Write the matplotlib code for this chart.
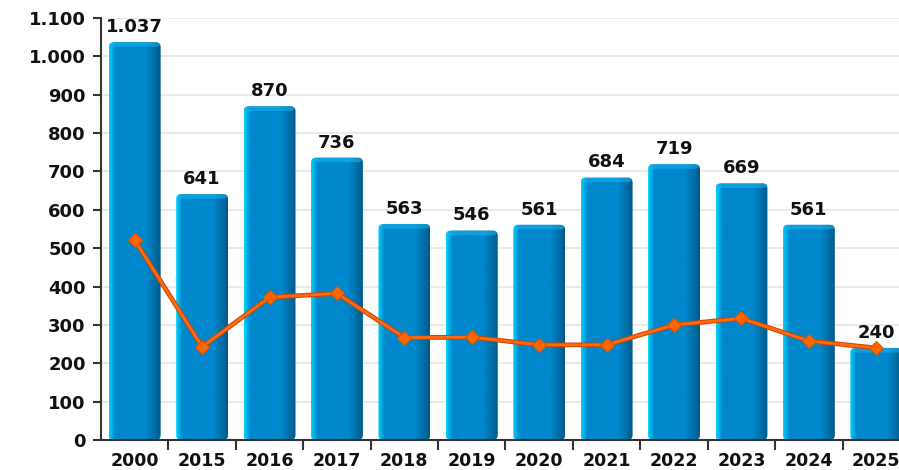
import numpy as np
import matplotlib
matplotlib.use("Agg")
import matplotlib.pyplot as plt
from matplotlib.patches import FancyBboxPatch
from matplotlib.ticker import FuncFormatter, FixedLocator

categories = ["2000", "2015", "2016", "2017", "2018", "2019", "2020", "2021", "2022", "2023", "2024", "2025"]
bar_values = [1037, 641, 870, 736, 563, 546, 561, 684, 719, 669, 561, 240]
line_values = [521, 243, 372, 382, 267, 268, 248, 248, 300, 317, 258, 240]
y_ticks = list(range(0, 1101, 100))

def fmt(v):
    return f"{int(v):,}".replace(",", ".")

W, H = 899, 470
fig = plt.figure(figsize=(W / 100, H / 100), dpi=100)
ax = fig.add_axes([101 / W, 30 / H, 809 / W, 422 / H])
x = np.arange(len(categories))
ax.set_xlim(-0.5, len(categories) - 0.5)
ax.set_ylim(0, 1100)

ax.set_axisbelow(True)
ax.yaxis.grid(True, color="#e6e6e6", linewidth=1.2)
for s in ["top", "right"]:
    ax.spines[s].set_visible(False)
for s in ["left", "bottom"]:
    ax.spines[s].set_color("#333333")
    ax.spines[s].set_linewidth(1.5)

bw = 0.77
bars = ax.bar(x, bar_values, width=bw, color="none", edgecolor="none")

# gradient image across bar width
n = 64
t = np.linspace(0, 1, n)
c_light = np.array([0.0, 0.82, 1.0])
c_mid = np.array([0.0, 0.53, 0.80])
c_dark = np.array([0.0, 0.36, 0.55])
cols = np.zeros((n, 3))
for i, tt in enumerate(t):
    if tt < 0.12:
        f = tt / 0.12
        cols[i] = c_light * (1 - f) + c_mid * f
    elif tt < 0.72:
        cols[i] = c_mid
    else:
        f = (tt - 0.72) / 0.28
        cols[i] = c_mid * (1 - f) + c_dark * f
grad = np.tile(cols[None, :, :], (2, 1, 1))

rx = 5 / 67.4
ry = 5 / (422 / 1100)
for rect, v in zip(bars, bar_values):
    x0 = rect.get_x()
    w = rect.get_width()
    patch = FancyBboxPatch((x0, 0), w, v, boxstyle=f"round,pad=0,rounding_size={rx}",
                           mutation_aspect=ry / rx, facecolor="none", edgecolor="none")
    ax.add_patch(patch)
    im = ax.imshow(grad, extent=(x0, x0 + w, 0, v), aspect="auto", zorder=2, interpolation="bilinear")
    im.set_clip_path(patch)
    top = FancyBboxPatch((x0, v - 12), w, 12, boxstyle=f"round,pad=0,rounding_size={rx}",
                         mutation_aspect=ry / rx, facecolor="#19b5f0", edgecolor="none", alpha=0.55, zorder=3)
    top.set_clip_path(patch)
    ax.add_patch(top)
    ax.text(x0 + w / 2, v + 16, fmt(v), ha="center", va="bottom", fontsize=13,
            fontweight="bold", color="#111111", zorder=5)

ax.plot(x, line_values, color="#cc4400", linewidth=3.4, zorder=6, solid_capstyle="round")
ax.plot(x, line_values, color="#ff6a10", linewidth=2.0, marker="D", markersize=7,
        markerfacecolor="#ff6600", markeredgecolor="#dd5500", markeredgewidth=0.8, zorder=7)

ax.yaxis.set_major_locator(FixedLocator(y_ticks))
ax.yaxis.set_major_formatter(FuncFormatter(lambda v, p: fmt(v)))
ax.tick_params(axis="y", length=6, width=1.5, color="#333333", pad=5, labelsize=13)
for lab in ax.get_yticklabels():
    lab.set_fontweight("bold")
    lab.set_color("#111111")

ax.set_xticks(x[:-1] + 0.5)
ax.set_xticklabels([])
ax.tick_params(axis="x", length=7, width=1.5, color="#333333")
ax.set_xticks(x, minor=True)
ax.set_xticklabels(categories, minor=True, fontweight="bold", fontsize=12.5, color="#111111")
ax.tick_params(axis="x", which="minor", length=0, pad=9)

fig.savefig("out.png", dpi=100)
